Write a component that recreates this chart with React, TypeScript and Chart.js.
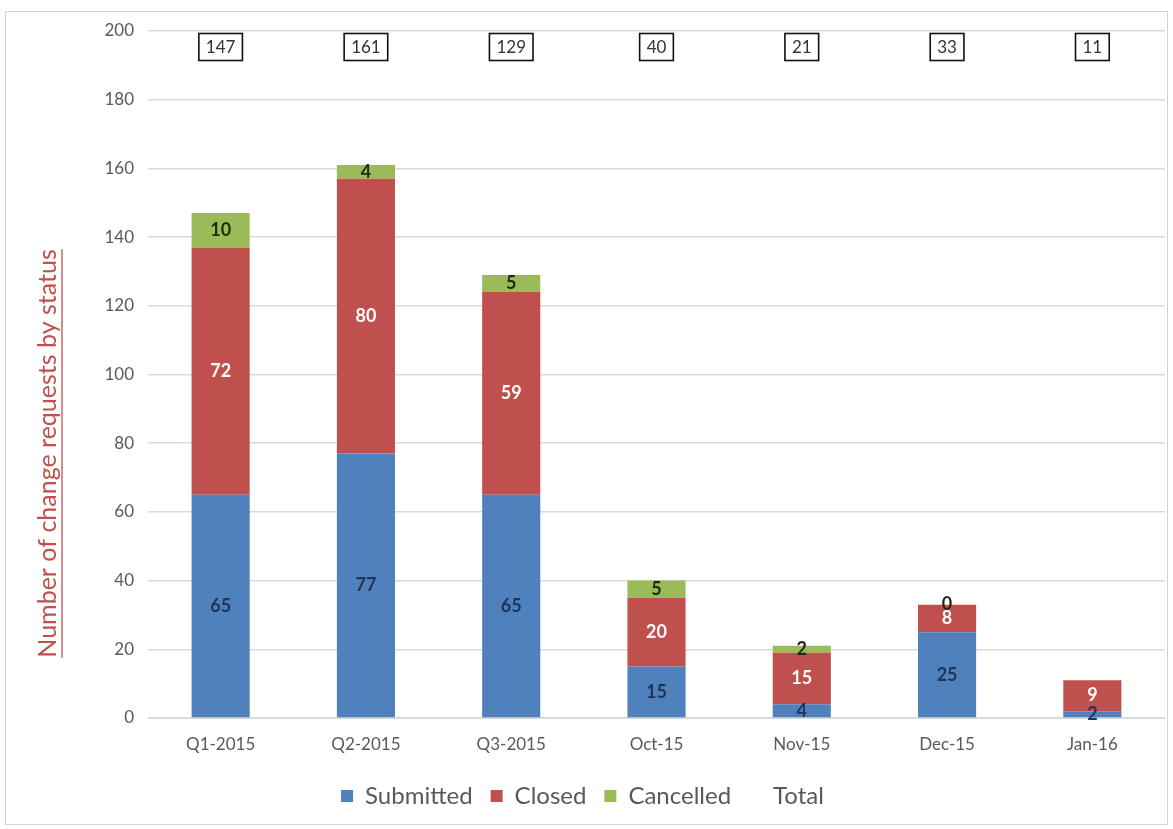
import React, { useEffect, useRef } from "react";
import { Chart, registerables } from "chart.js";

Chart.register(...registerables);

const categories = ["Q1-2015", "Q2-2015", "Q3-2015", "Oct-15", "Nov-15", "Dec-15", "Jan-16"];
const submitted = [65, 77, 65, 15, 4, 25, 2];
const closed = [72, 80, 59, 20, 15, 8, 9];
const cancelled: (number | null)[] = [10, 4, 5, 5, 2, 0, null];
const totals = [147, 161, 129, 40, 21, 33, 11];
const seriesNames = ["Submitted", "Closed", "Cancelled", "Total"];
const yAxisTitle = "Number of change requests by status";
const yMin = 0;
const yMax = 200;
const yStep = 20;

const BLUE = "#4f81bd";
const RED = "#c0504d";
const GREEN = "#9bbb59";
const labelColors = ["#1f3456", "#ffffff", "#1e2b10"];
const FONT = "Lato, 'Noto Sans', sans-serif";

const overlayPlugin = {
  id: "overlay",
  afterDatasetsDraw(chart: any) {
    const ctx = chart.ctx;
    const area = chart.chartArea;
    ctx.save();
    // segment labels
    ctx.font = `bold 18px ${FONT}`;
    ctx.textAlign = "center";
    ctx.textBaseline = "middle";
    [0, 1, 2].forEach((di) => {
      const meta = chart.getDatasetMeta(di);
      const data = chart.data.datasets[di].data;
      ctx.fillStyle = labelColors[di];
      meta.data.forEach((el: any, i: number) => {
        const v = data[i];
        if (v === null || v === undefined) return;
        const p = el.getProps(["x", "y", "base"], true);
        ctx.fillText(String(v), p.x, (p.y + p.base) / 2);
      });
    });
    // total boxes
    const xs = chart.scales.x;
    ctx.font = `17px ${FONT}`;
    const cy = area.top + 16;
    totals.forEach((t, i) => {
      const x = xs.getPixelForValue(i);
      const txt = String(t);
      const w = ctx.measureText(txt).width + 14;
      const h = 27;
      ctx.fillStyle = "#ffffff";
      ctx.fillRect(x - w / 2, cy - h / 2, w, h);
      ctx.strokeStyle = "#111111";
      ctx.lineWidth = 1.6;
      ctx.strokeRect(x - w / 2, cy - h / 2, w, h);
      ctx.fillStyle = "#333333";
      ctx.fillText(txt, x, cy + 1);
    });
    ctx.restore();
  },
  afterDraw(chart: any) {
    const ctx = chart.ctx;
    const area = chart.chartArea;
    ctx.save();
    const cx = area.left - 100;
    const cy = (area.top + area.bottom) / 2 + 79;
    ctx.translate(cx, cy);
    ctx.rotate(-Math.PI / 2);
    ctx.font = `25px ${FONT}`;
    ctx.fillStyle = "#c0504d";
    ctx.textAlign = "center";
    ctx.textBaseline = "middle";
    ctx.fillText(yAxisTitle, 0, 0);
    const w = ctx.measureText(yAxisTitle).width;
    ctx.strokeStyle = "#c0504d";
    ctx.lineWidth = 1.3;
    ctx.beginPath();
    ctx.moveTo(-w / 2, 14);
    ctx.lineTo(w / 2, 14);
    ctx.stroke();
    ctx.restore();
  },
};

export default function App() {
  const ref = useRef<HTMLCanvasElement | null>(null);
  useEffect(() => {
    if (!ref.current) return;
    const chart = new Chart(ref.current, {
      type: "bar",
      data: {
        labels: categories,
        datasets: [
          { label: seriesNames[0], data: submitted, backgroundColor: BLUE, borderWidth: 0 },
          { label: seriesNames[1], data: closed, backgroundColor: RED, borderWidth: 0 },
          { label: seriesNames[2], data: cancelled, backgroundColor: GREEN, borderWidth: 0 },
          {
            label: seriesNames[3],
            type: "line",
            data: totals,
            borderColor: "rgba(0,0,0,0)",
            backgroundColor: "rgba(0,0,0,0)",
            borderWidth: 0,
            pointRadius: 0,
            showLine: false,
          } as any,
        ],
      },
      options: {
        animation: false,
        responsive: false,
        devicePixelRatio: 1,
        layout: { padding: { left: 0, right: 8, top: 31, bottom: 11 } },
        datasets: { bar: { barPercentage: 0.4, categoryPercentage: 1 } },
        plugins: {
          legend: {
            position: "bottom",
            labels: {
              font: { family: FONT, size: 24 },
              color: "#595959",
              boxWidth: 12,
              boxHeight: 12,
              padding: 18,
            },
          },
          tooltip: { enabled: false },
        },
        scales: {
          x: {
            stacked: true,
            grid: { display: false },
            border: { display: true, color: "#d9d9d9" },
            ticks: { font: { family: FONT, size: 17 }, color: "#595959", padding: 8 },
            afterFit: (s: any) => { s.height = 48; },
          },
          y: {
            stacked: true,
            min: yMin,
            max: yMax,
            ticks: { stepSize: yStep, font: { family: FONT, size: 17 }, color: "#595959", padding: 14 },
            grid: { color: "#d9d9d9", drawTicks: false, lineWidth: 1.5 },
            border: { display: false },
            afterFit: (s: any) => { s.width = 148; },
          },
        },
      },
      plugins: [overlayPlugin],
    } as any);
    return () => chart.destroy();
  }, []);
  return (
    <div style={{ position: "fixed", left: 0, top: 0, width: 1173, height: 829, background: "#fff" }}>
      <div
        style={{
          position: "absolute",
          left: 5,
          top: 11,
          width: 1163,
          height: 814,
          border: "1px solid #d4d4d4",
          boxSizing: "border-box",
        }}
      />
      <canvas ref={ref} width={1173} height={829} style={{ position: "absolute", left: 0, top: 0 }} />
    </div>
  );
}
